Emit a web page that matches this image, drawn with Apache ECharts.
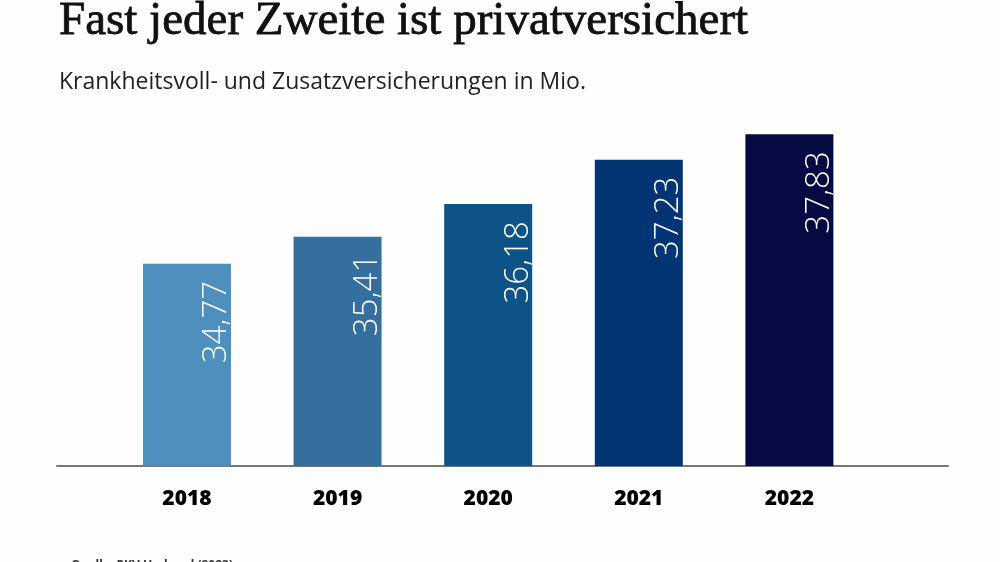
<!DOCTYPE html>
<html>
<head>
<meta charset="utf-8">
<script src="https://cdn.jsdelivr.net/npm/echarts@6/dist/echarts.min.js"></script>
<style>html,body{margin:0;padding:0;background:#fefefe}#c{width:1000px;height:562px}</style>
</head>
<body>
<div id="c"></div>
<script>
const years = ['2018', '2019', '2020', '2021', '2022'];
const values = [34.77, 35.41, 36.18, 37.23, 37.83];
const barColors = ['#4f8fbd', '#346f9e', '#0e5387', '#033574', '#050a43'];
const titleText = 'Fast jeder Zweite ist privatversichert';
const subtitleText = 'Krankheitsvoll- und Zusatzversicherungen in Mio.';
const sourceText = 'Quelle: PKV-Verband (2023)';

const chart = echarts.init(document.getElementById('c'));
chart.setOption({
  backgroundColor: '#fefefe',
  animation: false,
  title: [
    { text: titleText, left: 54, top: -7,
      textStyle: { fontFamily: 'Liberation Serif', fontSize: 47, fontWeight: 'normal', color: '#111',
                   textBorderColor: '#111', textBorderWidth: 0.8 } },
    { text: subtitleText, left: 54, top: 66,
      textStyle: { fontFamily: 'Open Sans', fontSize: 23, fontWeight: 'normal', color: '#222' } },
    { text: sourceText, left: 66, top: 555,
      textStyle: { fontFamily: 'Open Sans', fontSize: 12, fontWeight: 'bold', color: '#333' } }
  ],
  grid: { left: 57, right: 52, top: 127, bottom: 96, containLabel: false },
  xAxis: {
    type: 'value', min: -0.863, max: 5.053,
    splitLine: { show: false },
    axisTick: { show: false },
    axisLine: { show: true, lineStyle: { color: '#777', width: 2 } },
    axisLabel: {
      customValues: [0, 1, 2, 3, 4],
      formatter: v => years[Math.round(v)],
      margin: 23,
      fontFamily: 'Open Sans', fontSize: 21, fontWeight: 800, color: '#000'
    }
  },
  yAxis: { type: 'value', min: 30, max: 38, show: false, splitLine: { show: false } },
  series: [{
    type: 'bar',
    barWidth: 88,
    data: values.map((v, i) => ({ value: [i, v], itemStyle: { color: barColors[i] } })),
    label: {
      show: true,
      position: 'insideTop',
      distance: 17,
      rotate: 90,
      align: 'right',
      verticalAlign: 'middle',
      offset: [0, 30],
      formatter: p => p.value[1].toFixed(2).replace('.', ','),
      fontFamily: 'Open Sans', fontSize: 33, fontWeight: 300, color: '#fff'
    }
  }]
});
</script>
</body>
</html>
